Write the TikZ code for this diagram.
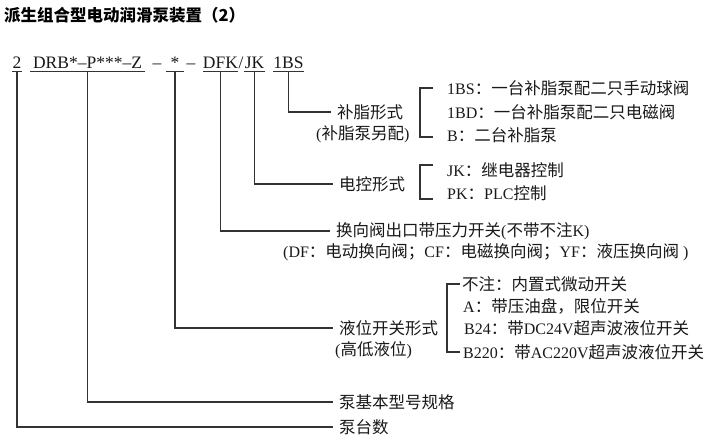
\documentclass[tikz,border=0pt]{standalone}
\usepackage{fontspec}
\setmainfont{Liberation Serif}
\newfontfamily\cjk{Noto Sans CJK SC}
\newcommand\zh[1]{{\fontsize{16.5}{18}\cjk #1}}
\tikzset{
  conn/.style={draw=black!80, line width=1.2pt},
  uline/.style={draw=black!80, line width=1pt},
  codebox/.style={inner sep=0pt, text height=12pt, text depth=3pt, font=\fontsize{17.5}{20}\selectfont, text=black!90},
  lab/.style={anchor=west, inner xsep=6pt, inner ysep=0pt, font=\fontsize{16}{18}\selectfont, text=black!90},
  item/.style={anchor=west, inner sep=0pt, font=\fontsize{16}{18}\selectfont, text=black!90}
}
\begin{document}
\begin{tikzpicture}[x=1pt,y=-1pt]
\useasboundingbox (0,0) rectangle (722,442);
\fill[white] (0,0) rectangle (722,442);

% title
\node[anchor=west, inner sep=0pt, text=black] (title) at (4,15) {\fontsize{16.5}{20}\cjk\bfseries 派生组合型电动润滑泵装置（2）};

% code line
\node[codebox, minimum width=8pt]   (k1) at (17,64) {2};
\node[codebox, minimum width=115pt] (k2) at (87.5,64) {DRB*–P***–Z};
\node[codebox] (d1) at (157,64) {–};
\node[codebox, minimum width=18pt]  (k3) at (175,64) {*};
\node[codebox] (d2) at (191,64) {–};
\node[codebox, minimum width=35pt]  (k4) at (220.5,64) {DFK};
\node[codebox] (sl) at (241,64) {/};
\node[codebox, minimum width=21pt]  (k5) at (254.5,64) {JK};
\node[codebox, minimum width=31pt]  (k6) at (288.5,64) {1BS};
\foreach \n in {k1,k2,k3,k4,k5,k6}
  \draw[uline] (\n.south west) -- (\n.south east);

% 补脂形式
\node[lab] (L1) at (331,112) {\zh{补脂形式}};
\node[lab] (L1b) at (310,134) {(\zh{补脂泵另配})};
\draw[conn] (k6.south) |- (L1.west);
\node[item] (I11) at (447,88) {1BS\zh{：一台补脂泵配二只手动球阀}};
\node[item] (I12) at (447,112) {1BD\zh{：一台补脂泵配二只电磁阀}};
\node[item] (I13) at (447,135) {B\zh{：二台补脂泵}};
\draw[conn] ([xshift=-14pt]I11.west) -- ++(-13,0) |- ([shift={(-14pt,-2pt)}]I13.west);

% 电控形式
\node[lab] (L2) at (333,184) {\zh{电控形式}};
\draw[conn] (k5.south) |- (L2.west);
\node[item] (I21) at (447,170) {JK\zh{：继电器控制}};
\node[item] (I22) at (447,193) {PK\zh{：}PLC\zh{控制}};
\draw[conn] ([shift={(-14pt,5pt)}]I21.west) -- ++(-13,0) |- ([shift={(-14pt,-6pt)}]I22.west);

% 换向阀
\node[lab] (L3) at (330,231) {\zh{换向阀出口带压力开关}(\zh{不带不注}K)};
\node[lab] (L3b) at (277,252) {(DF\zh{：电动换向阀；}CF\zh{：电磁换向阀；}YF\zh{：液压换向阀} )};
\draw[conn] (k4.south) |- (L3.west);

% 液位开关形式
\node[lab] (L4) at (333,328) {\zh{液位开关形式}};
\node[lab] (L4b) at (329,350) {(\zh{高低液位})};
\draw[conn] (k3.south) |- (L4.west);
\node[item] (I41) at (462,284) {\zh{不注：内置式微动开关}};
\node[item] (I42) at (463,306) {A\zh{：带压油盘，限位开关}};
\node[item] (I43) at (464,328) {B24\zh{：带}DC24V\zh{超声波液位开关}};
\node[item] (I44) at (463,352) {B220\zh{：带}AC220V\zh{超声波液位开关}};
\draw[conn] ([xshift=-2pt]I41.west) -- ++(-13,0) |- ([xshift=-3pt]I44.west);

% 泵基本型号规格, 泵台数
\node[lab] (L5) at (333,402) {\zh{泵基本型号规格}};
\draw[conn] (k2.south) |- (L5.west);
\node[lab] (L6) at (333,427) {\zh{泵台数}};
\draw[conn] (k1.south) |- (L6.west);
\end{tikzpicture}
\end{document}
